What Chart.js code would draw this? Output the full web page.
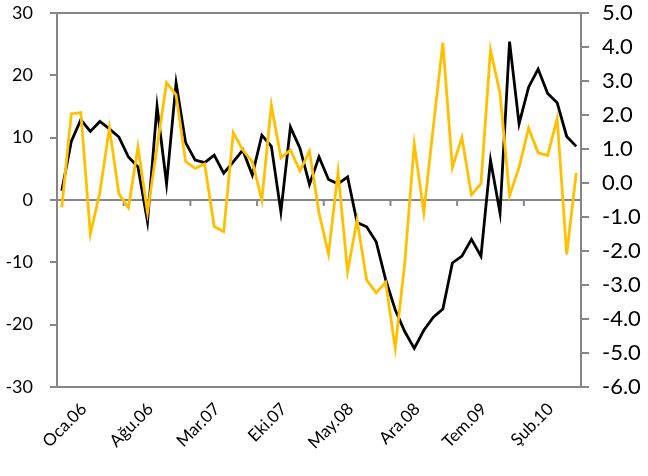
<!DOCTYPE html>
<html>
<head>
<meta charset="utf-8">
<script src="https://cdn.jsdelivr.net/npm/chart.js@4"></script>
<style>
  html, body { margin: 0; padding: 0; background: #fff; }
  #wrap { width: 648px; height: 476px; }
</style>
</head>
<body>
<div id="wrap"><canvas id="chart" width="648" height="476"></canvas></div>
<script>
// month names (Turkish) and years covered: Oca.06 .. Tem.10
const monthNames = ["Oca", "Şub", "Mar", "Nis", "May", "Haz", "Tem", "Ağu", "Eyl", "Eki", "Kas", "Ara"];
const years = ["06", "07", "08", "09", "10"];
const monthCount = 55;

// left axis series (black)
const blackSeries = [
  1.5, 9.4, 12.9, 11.0, 12.6, 11.4, 10.1, 6.9, 5.3, -3.5,
  15.0, 2.6, 18.8, 9.2, 6.4, 6.0, 7.2, 4.3, 6.1, 8.0,
  4.0, 10.4, 8.6, -1.9, 11.7, 8.3, 2.5, 6.9, 3.3, 2.6,
  3.7, -3.6, -4.3, -6.7, -12.8, -17.6, -21.1, -23.8, -20.9, -18.8,
  -17.5, -10.1, -9.0, -6.3, -9.0, 6.4, -2.1, 25.4, 12.2, 18.1,
  21.0, 17.1, 15.6, 10.2, 8.6
];

// right axis series (orange)
const orangeSeries = [
  -0.72, 2.03, 2.07, -1.50, -0.28, 1.62, -0.32, -0.73, 1.06, -0.87,
  1.05, 2.95, 2.59, 0.63, 0.43, 0.56, -1.28, -1.43, 1.48, 0.97,
  0.63, -0.50, 2.29, 0.74, 0.97, 0.36, 0.94, -0.88, -2.09, 0.33,
  -2.61, -1.09, -2.85, -3.23, -2.92, -4.86, -2.36, 1.14, -0.87, 1.66,
  4.13, 0.46, 1.34, -0.35, -0.02, 3.91, 2.64, -0.37, 0.46, 1.61,
  0.89, 0.81, 1.90, -2.10, 0.30
];

const labelEvery = 7;

const categories = [];
for (let i = 0; i < monthCount; i++) {
  categories.push(monthNames[i % 12] + "." + years[Math.floor(i / 12)]);
}

const axisGray = "#868686";
const font = "Lato, 'Liberation Sans', sans-serif";

// small tick marks hanging off the zero line, every 7 months
const zeroTicks = {
  id: "zeroTicks",
  beforeDatasetsDraw(chart) {
    const xs = chart.scales.x;
    const y0 = chart.scales.y.getPixelForValue(0);
    const ctx = chart.ctx;
    ctx.save();
    ctx.strokeStyle = axisGray;
    ctx.lineWidth = 2;
    for (let i = labelEvery; i < monthCount; i += labelEvery) {
      const x = (xs.getPixelForValue(i) + xs.getPixelForValue(i - 1)) / 2;
      ctx.beginPath();
      ctx.moveTo(x, y0);
      ctx.lineTo(x, y0 + 6);
      ctx.stroke();
    }
    ctx.restore();
  }
};

new Chart(document.getElementById("chart"), {
  type: "line",
  data: {
    labels: categories,
    datasets: [
      {
        data: blackSeries,
        yAxisID: "y",
        borderColor: "#000000",
        borderWidth: 2.8,
        pointRadius: 0,
        tension: 0,
        order: 2
      },
      {
        data: orangeSeries,
        yAxisID: "y1",
        borderColor: "#FFC000",
        borderWidth: 2.8,
        pointRadius: 0,
        tension: 0,
        order: 1
      }
    ]
  },
  options: {
    responsive: false,
    animation: false,
    layout: { padding: { top: 13, left: 0, right: 0, bottom: 0 } },
    plugins: { legend: { display: false }, tooltip: { enabled: false } },
    scales: {
      x: {
        offset: true,
        grid: { display: false },
        border: { display: false },
        afterFit(s) { s.height = 89; s.paddingLeft = 0; s.paddingRight = 0; },
        ticks: {
          autoSkip: false,
          minRotation: 45,
          maxRotation: 45,
          padding: 4,
          labelOffset: 22,
          color: "#000",
          font: { family: font, size: 17 },
          callback(v, i) { return i % labelEvery === 0 ? categories[i] : ""; }
        }
      },
      y: {
        position: "left",
        min: -30,
        max: 30,
        afterFit(s) { s.width = 57; s.paddingTop = 0; s.paddingBottom = 0; },
        border: { color: axisGray, width: 2 },
        grid: {
          color: (c) => (c.tick && (c.tick.value === 0 || Math.abs(c.tick.value) === 30)) ? axisGray : "rgba(0,0,0,0)",
          lineWidth: 2,
          tickColor: axisGray,
          tickLength: 7
        },
        ticks: {
          stepSize: 10,
          padding: 17,
          color: "#000",
          font: { family: font, size: 18 }
        }
      },
      y1: {
        position: "right",
        min: -6,
        max: 5,
        afterFit(s) { s.width = 67; s.paddingTop = 0; s.paddingBottom = 0; },
        border: { color: axisGray, width: 2 },
        grid: {
          drawOnChartArea: false,
          lineWidth: 2,
          tickColor: axisGray,
          tickLength: 8
        },
        ticks: {
          stepSize: 1,
          padding: 13,
          color: "#000",
          font: { family: font, size: 22 },
          callback(v) { return v.toFixed(1); }
        }
      }
    }
  },
  plugins: [zeroTicks]
});
</script>
</body>
</html>
